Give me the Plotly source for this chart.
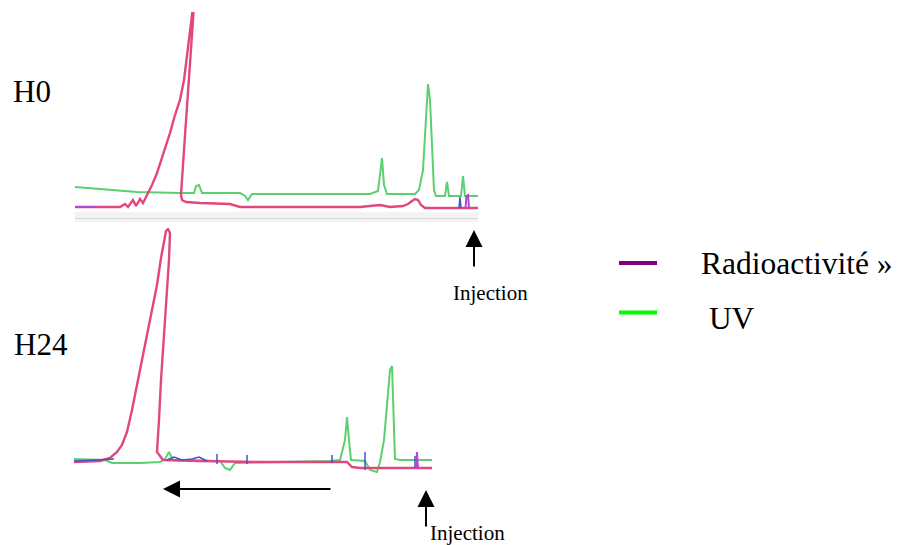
import plotly.graph_objects as go

# ---------------- data (retention time, signal) ----------------
# H0 panel
h0_radio_t = [40.3, 35.8, 35.3, 35.0, 34.5, 34.2, 33.8, 33.5, 33.1, 32.6, 32.1, 31.5, 30.8, 30.3,
              29.8, 29.4, 29.0, 28.6, 28.35, 28.5, 28.8, 29.1, 29.4, 29.6, 29.7, 29.6, 29.2, 27.8,
              24.8, 23.8, 17.8, 11.8, 9.8, 8.8, 7.5, 7.0, 6.6, 6.3, 6.0, 5.7, 5.3, 1.6, 0.0]
h0_radio_s = [0, 0, 1.5, 0, 3.5, 0.5, 4, 2, 6, 11, 17, 26, 37, 46,
              53.5, 63.5, 78.5, 96, 106, 93.5, 73.5, 53.5, 28.5, 13.5, 6, 3.5, 2.5, 2,
              1.5, 0, 0, 0, 1, 0, 0.5, 1.5, 3, 4, 3.5, 1, -0.5, -0.5, -0.5]

h0_uv_t = [40.3, 37.8, 34.1, 29.8, 28.4, 28.2, 27.9, 27.6, 23.8, 23.3, 23.0, 22.6, 17.8, 10.8,
           10.0, 9.8, 9.6, 9.4, 9.1, 6.3, 5.9, 5.5, 5.2, 5.0, 4.8, 4.6, 4.4, 4.2, 3.3, 3.1,
           2.9, 1.7, 1.5, 1.3, 0.0]
h0_uv_s = [10, 9, 7.5, 7, 7, 10.5, 11, 7, 7, 5.5, 3.5, 6.5, 6.5, 6.5,
           8, 16, 24.5, 11, 6.5, 6.5, 8.5, 18.5, 43.5, 61.5, 53.5, 28.5, 8.5, 5.5, 5.5, 12.5,
           5.5, 5.5, 15.5, 5.5, 5.5]

h0_purple_t = [40.3, 38.1, None, 1.25, 1.15, 1.0, 0.9]
h0_purple_s = [0, 0, None, -0.5, 5.5, 6, -0.5]
h0_blue_t = [1.9, 1.8, 1.7]
h0_blue_s = [-0.5, 5, -0.5]

# H24 panel
h24_radio_t = [35.8, 33.2, 32.2, 31.5, 31.0, 30.5, 30.0, 29.5, 29.0, 28.5, 28.0, 27.5, 27.1, 26.8,
               26.6, 26.4, 26.2, 26.3, 26.5, 26.8, 27.1, 27.3, 27.5, 27.5, 27.2, 26.9, 23.2, 17.2,
               8.5, 8.0, 7.2, 1.8, 0.0]
h24_radio_s = [0, 0.5, 2, 5, 8.5, 15, 26, 38.5, 52, 65, 77, 88.5, 102, 111,
               115.5, 116.5, 114.5, 101, 86, 66, 41, 21, 8.5, 5, 3, 1, 0.5, 0,
               0, -2.5, -3, -3, -3]

h24_uv_t = [35.8, 32.7, 32.0, 29.2, 27.2, 26.7, 26.3, 25.9, 21.2, 20.7, 20.2, 19.7, 10.2, 9.2,
            8.7, 8.5, 8.3, 8.1, 6.7, 6.2, 5.5, 5.2, 4.8, 4.5, 4.2, 4.0, 3.9, 3.8, 3.7, 3.2, 0.0]
h24_uv_s = [1.5, 1, -0.5, -0.5, 0, 1.5, 5, 1, 0.5, -3, -4, -0.5, 0.5, 1,
            11, 22.5, 11, 1, 0.5, -4, -5, 0, 11, 31, 46, 48, 31, 11, 1.5, 1, 1]

h24_purple_t = [1.6, 1.5, 1.4]
h24_purple_s = [-3, 5, -3]
h24_blue_t = [35.8, 33.5, 31.8, None, 26.5, 25.8, 25.0, 24.0, 23.3, 22.5, None,
              21.5, 21.5, None, 18.5, 18.5, None, 10.0, 10.0, None, 6.7, 6.7, None, 1.7, 1.7]
h24_blue_s = [0.5, 1, 1.5, None, 1, 2.5, 1, 1.5, 2.5, 0.5, None,
              -1, 4, None, -1, 3.5, None, -0.5, 3.5, None, -4, 5, None, -3, 3]

panel_labels = ["H0", "H24"]
legend_labels = ["Radioactivité »", " UV"]
injection_label = "Injection"

# ---------------- styles ----------------
W, H = 898, 545
PINK = "#e2467f"
GREEN = "#5ccf70"
PURPLE = "#b048d0"
BLUE = "#3f55c8"
FONT = "Liberation Serif, Times New Roman, serif"


def px(x):
    return x / W


def py(y):
    return 1 - y / H


fig = go.Figure()

# top panel (H0)
fig.add_trace(go.Scatter(x=h0_uv_t, y=h0_uv_s, mode="lines", line=dict(color=GREEN, width=2),
                         xaxis="x", yaxis="y", showlegend=False))
fig.add_trace(go.Scatter(x=h0_radio_t, y=h0_radio_s, mode="lines", line=dict(color=PINK, width=2.4),
                         xaxis="x", yaxis="y", showlegend=False))
fig.add_trace(go.Scatter(x=h0_blue_t, y=h0_blue_s, mode="lines", line=dict(color=BLUE, width=1.5),
                         xaxis="x", yaxis="y", showlegend=False))
fig.add_trace(go.Scatter(x=h0_purple_t, y=h0_purple_s, mode="lines", line=dict(color=PURPLE, width=2),
                         xaxis="x", yaxis="y", showlegend=False))

# bottom panel (H24)
fig.add_trace(go.Scatter(x=h24_uv_t, y=h24_uv_s, mode="lines", line=dict(color=GREEN, width=2),
                         xaxis="x2", yaxis="y2", showlegend=False))
fig.add_trace(go.Scatter(x=h24_radio_t, y=h24_radio_s, mode="lines", line=dict(color=PINK, width=2.4),
                         xaxis="x2", yaxis="y2", showlegend=False))
fig.add_trace(go.Scatter(x=h24_blue_t, y=h24_blue_s, mode="lines", line=dict(color=BLUE, width=1.5),
                         xaxis="x2", yaxis="y2", showlegend=False))
fig.add_trace(go.Scatter(x=h24_purple_t, y=h24_purple_s, mode="lines", line=dict(color=PURPLE, width=2),
                         xaxis="x2", yaxis="y2", showlegend=False))

hidden = dict(showgrid=False, zeroline=False, showticklabels=False, ticks="")
fig.update_layout(
    width=W, height=H,
    margin=dict(l=0, r=0, t=0, b=0),
    paper_bgcolor="white", plot_bgcolor="rgba(0,0,0,0)",
    showlegend=False,
    xaxis=dict(domain=[px(75), px(478)], range=[40.3, 0], anchor="y",
               showline=True, linecolor="#d8d8d8", linewidth=1, **hidden),
    yaxis=dict(domain=[py(218), py(12)], range=[-5.5, 97.5], anchor="x", **hidden),
    xaxis2=dict(domain=[px(74), px(432)], range=[35.8, 0], anchor="y2",
                showline=False, **hidden),
    yaxis2=dict(domain=[py(475), py(228)], range=[-6.5, 117], anchor="x2", **hidden),
)

# faint scanned label strip under the H0 trace
fig.add_shape(type="rect", xref="paper", yref="paper", x0=px(75), x1=px(478), y0=py(222), y1=py(212),
              fillcolor="#f3f3f3", line=dict(width=0), layer="below")

ann = []
# panel labels
ann.append(dict(text=panel_labels[0], x=px(11), y=py(91), xref="paper", yref="paper",
                xanchor="left", yanchor="middle", showarrow=False,
                font=dict(family=FONT, size=31, color="black")))
ann.append(dict(text=panel_labels[1], x=px(12), y=py(344), xref="paper", yref="paper",
                xanchor="left", yanchor="middle", showarrow=False,
                font=dict(family=FONT, size=31, color="black")))
# injection labels
ann.append(dict(text=injection_label, x=px(451), y=py(293), xref="paper", yref="paper",
                xanchor="left", yanchor="middle", showarrow=False,
                font=dict(family=FONT, size=21, color="black")))
ann.append(dict(text=injection_label, x=px(428), y=0, xref="paper", yref="paper",
                xanchor="left", yanchor="bottom", showarrow=False, yshift=-2,
                font=dict(family=FONT, size=21, color="black")))
# arrows
arrow_style = dict(xref="paper", yref="paper", text="", showarrow=True, arrowhead=2,
                   arrowsize=1.7, arrowwidth=2, arrowcolor="black", standoff=0)
ann.append(dict(x=px(474), y=py(230), ax=0, ay=38, **arrow_style))
ann.append(dict(x=px(426), y=py(490), ax=0, ay=38, **arrow_style))
ann.append(dict(x=px(163), y=py(489), ax=169, ay=0, **arrow_style))
# legend texts
ann.append(dict(text=legend_labels[0], x=px(699), y=py(263), xref="paper", yref="paper",
                xanchor="left", yanchor="middle", showarrow=False,
                font=dict(family=FONT, size=31.5, color="black")))
ann.append(dict(text=legend_labels[1], x=px(699), y=py(318), xref="paper", yref="paper",
                xanchor="left", yanchor="middle", showarrow=False,
                font=dict(family=FONT, size=31.5, color="black")))
fig.update_layout(annotations=ann)

# legend swatches
fig.add_shape(type="line", xref="paper", yref="paper", x0=px(619), x1=px(657), y0=py(263), y1=py(263),
              line=dict(color="#800080", width=4))
fig.add_shape(type="line", xref="paper", yref="paper", x0=px(619), x1=px(657), y0=py(312.5), y1=py(312.5),
              line=dict(color="#00ff00", width=4))

fig.write_html("out.html",
               config={"displayModeBar": False, "staticPlot": True},
               post_script="document.body.style.margin='0';document.body.style.overflow='hidden';")
